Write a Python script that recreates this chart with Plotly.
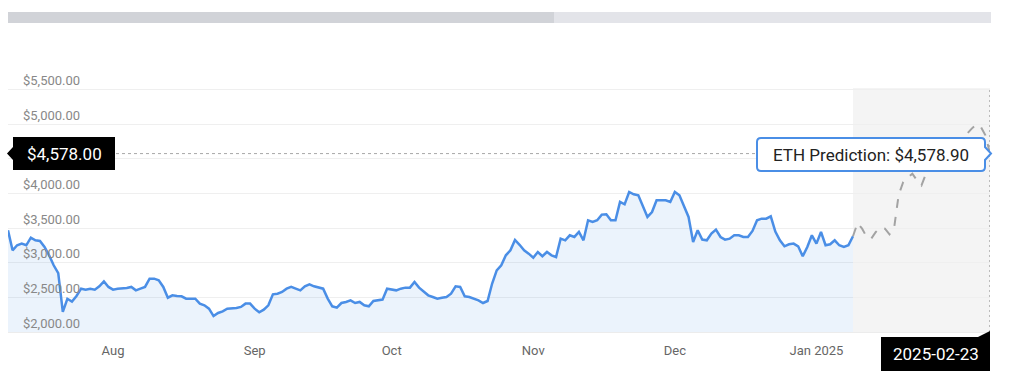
import pandas as pd
import plotly.graph_objects as go

# ---------------- data ----------------
hist_start = "2024-07-23"
hist_prices = [
    3469, 3180, 3253, 3277, 3253, 3363, 3325, 3315, 3229, 3108,
    2964, 2850, 2290, 2480, 2440, 2520, 2626, 2612, 2626, 2612,
    2660, 2732, 2651, 2612, 2626, 2626, 2636, 2651, 2602, 2626,
    2651, 2771, 2771, 2747, 2651, 2496, 2530, 2520, 2516, 2482,
    2482, 2482, 2410, 2386, 2337, 2230, 2275, 2299, 2337, 2337,
    2347, 2362, 2410, 2410, 2337, 2285, 2323, 2386, 2545, 2554,
    2578, 2626, 2651, 2626, 2602, 2660, 2689, 2660, 2641, 2626,
    2482, 2371, 2352, 2419, 2434, 2458, 2419, 2434, 2386, 2371,
    2448, 2458, 2468, 2626, 2612, 2602, 2626, 2641, 2641, 2723,
    2641, 2578, 2530, 2506, 2482, 2496, 2506, 2554, 2660, 2651,
    2516, 2506, 2482, 2458, 2419, 2448, 2700, 2891, 2964, 3108,
    3180, 3330, 3260, 3180, 3132, 3074, 3156, 3094, 3156, 3108,
    3084, 3349, 3325, 3397, 3373, 3445, 3325, 3614, 3590, 3614,
    3696, 3701, 3614, 3614, 3879, 3845, 4023, 3990, 3975, 3807,
    3662, 3734, 3903, 3903, 3903, 3879, 4023, 3975, 3831, 3662,
    3301, 3469, 3335, 3325, 3421, 3479, 3373, 3335, 3349, 3397,
    3397, 3373, 3373, 3460, 3614, 3638, 3638, 3672, 3450, 3325,
    3238, 3267, 3277, 3238, 3094, 3229, 3397, 3277, 3445, 3253,
    3267, 3325, 3253, 3229, 3253, 3383,
]
pred_start = "2025-01-24"
pred_prices = [
    3383, 3575, 3493, 3373, 3349, 3445, 3508, 3493, 3412, 3500,
    3980, 4168, 4230, 4288, 4192, 4120, 4288, 4433, 4505, 4577,
    4625, 4674, 4722, 4770, 4828, 4866, 4939, 5001, 4963, 4842,
    4578.90,
]
y_ticks = [2000, 2500, 3000, 3500, 4000, 4500, 5000, 5500]
y_tick_hidden = [4500]          # covered by the price label in the original
x_tick_dates = ["2024-08-15", "2024-09-15", "2024-10-15",
                "2024-11-15", "2024-12-16", "2025-01-16"]
x_tick_labels = ["Aug", "Sep", "Oct", "Nov", "Dec", "Jan 2025"]
crosshair_price = 4578.00
crosshair_date = "2025-02-23"
series_name = "ETH Prediction"

hist_dates = pd.date_range(hist_start, periods=len(hist_prices), freq="D")
pred_dates = pd.date_range(pred_start, periods=len(pred_prices), freq="D")

# ---------------- layout geometry ----------------
W, H = 1024, 379
L, R, T, B = 8, 34, 69, 47
Y_RANGE = [2000, 5800]
FONT = "Roboto"


def px(xp):
    return (xp - L) / (W - L - R)


def py(yp):
    return (H - B - yp) / (H - T - B)


def path_from(points):
    s = ""
    for cmd, pts in points:
        s += cmd
        s += " ".join(f"{px(x):.5f},{py(y):.5f}" for x, y in pts)
        s += " "
    return s + "Z"


def money(v):
    return f"${v:,.2f}"


BLUE = "#4a8ee6"

fig = go.Figure()
fig.add_trace(go.Scatter(
    x=hist_dates, y=hist_prices, mode="lines",
    line=dict(color=BLUE, width=2.5),
    fill="tozeroy", fillcolor="rgba(74,142,230,0.11)",
    hoverinfo="skip", showlegend=False,
))
fig.add_trace(go.Scatter(
    x=pred_dates, y=pred_prices, mode="lines",
    line=dict(color="#a3a3a3", width=2, dash="dash"),
    hoverinfo="skip", showlegend=False,
))

shapes = []
# prediction background
shapes.append(dict(type="rect", xref="x", yref="paper",
                   x0=pred_dates[0], x1=pred_dates[-1], y0=0, y1=py(88),
                   fillcolor="#f4f4f4", line=dict(width=0), layer="below"))
# crosshair lines
shapes.append(dict(type="line", xref="paper", yref="y", x0=0, x1=1,
                   y0=crosshair_price, y1=crosshair_price,
                   line=dict(color="#a8a8a8", width=1, dash="3px,3px")))
shapes.append(dict(type="line", xref="x", yref="paper",
                   x0=crosshair_date, x1=crosshair_date, y0=0, y1=py(88),
                   line=dict(color="#a8a8a8", width=1.5, dash="2px,3px")))
# scrollbar
shapes.append(dict(type="rect", xref="paper", yref="paper",
                   x0=px(8), x1=px(991), y0=py(23), y1=py(12),
                   fillcolor="#e3e4e9", line=dict(width=0)))
shapes.append(dict(type="rect", xref="paper", yref="paper",
                   x0=px(8), x1=px(554), y0=py(23), y1=py(12),
                   fillcolor="#d1d3d8", line=dict(width=0)))
# left black price label
shapes.append(dict(type="path", xref="paper", yref="paper",
                   path=path_from([("M", [(13, 137)]), ("L", [(115, 137)]),
                                   ("L", [(115, 170)]), ("L", [(13, 170)]),
                                   ("L", [(13, 160)]), ("L", [(7, 153.5)]),
                                   ("L", [(13, 147)])]),
                   fillcolor="#000000", line=dict(width=0)))
# tooltip box
x0, x1, y0, y1, r = 757, 985, 138, 171, 4
shapes.append(dict(type="path", xref="paper", yref="paper",
                   path=path_from([
                       ("M", [(x0 + r, y0)]), ("L", [(x1 - r, y0)]),
                       ("Q", [(x1, y0), (x1, y0 + r)]),
                       ("L", [(x1, 147)]), ("L", [(991, 153.5)]), ("L", [(x1, 160)]),
                       ("L", [(x1, y1 - r)]),
                       ("Q", [(x1, y1), (x1 - r, y1)]),
                       ("L", [(x0 + r, y1)]),
                       ("Q", [(x0, y1), (x0, y1 - r)]),
                       ("L", [(x0, y0 + r)]),
                       ("Q", [(x0, y0), (x0 + r, y0)]),
                   ]),
                   fillcolor="#ffffff", line=dict(color=BLUE, width=2)))
# bottom date label
shapes.append(dict(type="path", xref="paper", yref="paper",
                   path=path_from([("M", [(881, 337)]), ("L", [(978, 337)]),
                                   ("L", [(990, 331)]), ("L", [(990, 371)]),
                                   ("L", [(881, 371)])]),
                   fillcolor="#000000", line=dict(width=0)))

annotations = [
    dict(xref="paper", yref="y", x=px(64), y=crosshair_price,
         text=money(crosshair_price), showarrow=False,
         font=dict(family=FONT, size=17, color="#ffffff"),
         xanchor="center", yanchor="middle"),
    dict(xref="paper", yref="paper", x=px(871), y=py(154.5),
         text=f"{series_name}: {money(pred_prices[-1])}", showarrow=False,
         font=dict(family=FONT, size=17, color="#222222"),
         xanchor="center", yanchor="middle"),
    dict(xref="paper", yref="paper", x=px(935.5), y=py(354),
         text=crosshair_date, showarrow=False,
         font=dict(family=FONT, size=17, color="#ffffff"),
         xanchor="center", yanchor="middle"),
]

y_tick_text = ["" if v in y_tick_hidden else money(v) for v in y_ticks]

fig.update_layout(
    width=W, height=H,
    margin=dict(l=L, r=R, t=T, b=B, pad=0),
    paper_bgcolor="#ffffff", plot_bgcolor="#ffffff",
    showlegend=False,
    shapes=shapes, annotations=annotations,
    font=dict(family=FONT),
    xaxis=dict(
        type="date", range=[hist_dates[0], pred_dates[-1]],
        tickvals=x_tick_dates, ticktext=x_tick_labels,
        showgrid=False, zeroline=False, ticks="",
        showline=True, linecolor="#ececec", linewidth=1,
        tickfont=dict(family=FONT, size=13, color="#666666"),
        ticklabelstandoff=6, fixedrange=True,
    ),
    yaxis=dict(
        range=Y_RANGE, tickvals=y_ticks, ticktext=y_tick_text,
        ticklabelposition="inside", ticklabelstandoff=12, ticklabelshift=-9,
        showgrid=True, gridcolor="#efefef", gridwidth=1,
        zeroline=False, ticks="", showline=False,
        tickfont=dict(family=FONT, size=13, color="#888888"),
        fixedrange=True,
    ),
)

fig.write_html("out.html", config={"displayModeBar": False},
               post_script="document.body.style.margin='0';")
